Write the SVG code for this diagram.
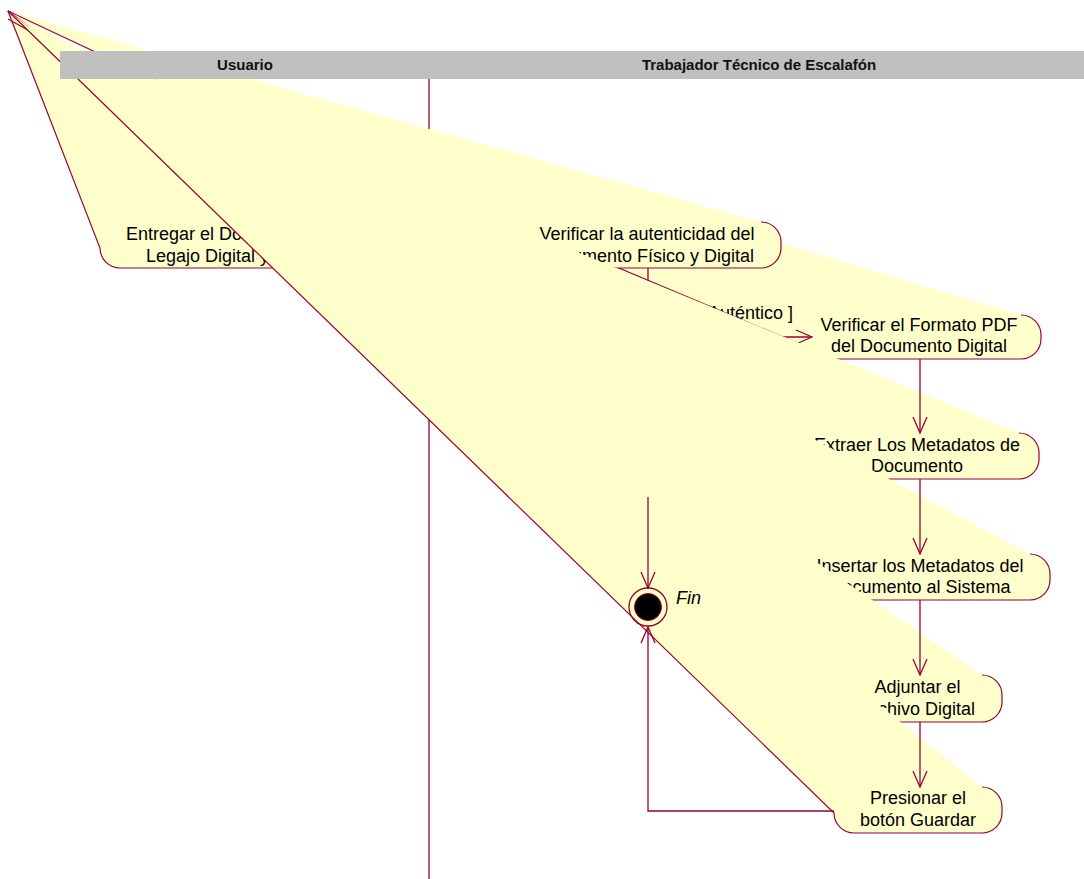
<svg xmlns="http://www.w3.org/2000/svg" width="1084" height="879" viewBox="0 0 1084 879">
<defs>
<style>
.node{fill:#FFFFCC;stroke:#990033;stroke-width:1.2}
.lbl{font-family:"Liberation Sans",Arial,sans-serif;font-size:18px;fill:#000}
.c{text-anchor:middle}
.conn{fill:none;stroke:#990033;stroke-width:1.3}
.hdr{font-family:"Liberation Sans",Arial,sans-serif;font-size:15px;font-weight:bold;fill:#111;text-anchor:middle}
</style>
<marker id="arr" markerUnits="userSpaceOnUse" viewBox="0 0 18 16" refX="17" refY="8" markerWidth="18" markerHeight="16" orient="auto">
<path d="M1,1 L17,8 L1,15" fill="none" stroke="#990033" stroke-width="1.3"/>
</marker>
</defs>
<rect width="1084" height="879" fill="#ffffff"/>
<line x1="429" y1="79" x2="429" y2="879" stroke="#990033" stroke-width="1.3"/>

<g id="entregar">
<path class="node" d="M347,222 A20,20 0 0 1 367,242 L367,248 A20,20 0 0 1 347,268 L120,268 A20,20 0 0 1 100,248 L8,11"/>
<text class="lbl" x="126" y="240">Entregar el Do</text>
<text class="lbl" x="146" y="262">Legajo Digital y</text>
</g>

<g id="formato">
<path class="node" d="M1021,315 A20,20 0 0 1 1041,335 L1041,339 A20,20 0 0 1 1021,359 L813,359 A16,16 0 0 1 797,343 L8,11"/>
<text class="lbl c" x="919" y="331">Verificar el Formato PDF</text>
<text class="lbl c" x="919" y="352">del Documento Digital</text>
</g>

<g id="autenticidad">
<path class="node" d="M761,222 A20,20 0 0 1 781,242 L781,248 A20,20 0 0 1 761,268 L533,268 A20,20 0 0 1 513,248 L8,11"/>
<text class="lbl c" x="647" y="240">Verificar la autenticidad del</text>
<text class="lbl c" x="647" y="262">Documento Físico y Digital</text>
</g>

<g id="conn-autentico">
<path class="conn" d="M648,268 L648,337 L812,337" marker-end="url(#arr)"/>
<text class="lbl" x="793" y="319" text-anchor="end">[ Auténtico ]</text>
</g>

<g id="extraer">
<path class="node" d="M1019,433 A20,20 0 0 1 1039,453 L1039,459 A20,20 0 0 1 1019,479 L815,479 A20,20 0 0 1 795,459 L8,19"/>
<text class="lbl c" x="917" y="451">Extraer Los Metadatos de</text>
<text class="lbl c" x="917" y="472">Documento</text>
</g>

<g id="insertar">
<path class="node" d="M1030,554 A20,20 0 0 1 1050,574 L1050,580 A20,20 0 0 1 1030,600 L810,600 A20,20 0 0 1 790,580 L8,11"/>
<text class="lbl c" x="920" y="572">Insertar los Metadatos del</text>
<text class="lbl c" x="920" y="593">Documento al Sistema</text>
</g>

<g id="adjuntar">
<path class="node" d="M982,675 A20,20 0 0 1 1002,695 L1002,702 A20,20 0 0 1 982,722 L853,722 A20,20 0 0 1 833,702 L8,11"/>
<text class="lbl c" x="917.5" y="693">Adjuntar el</text>
<text class="lbl c" x="917.5" y="715">Archivo Digital</text>
</g>

<g id="presionar">
<path class="node" d="M982,787 A20,20 0 0 1 1002,807 L1002,813 A20,20 0 0 1 982,833 L854,833 A20,20 0 0 1 834,813 L8,11"/>
<text class="lbl c" x="918" y="804">Presionar el</text>
<text class="lbl c" x="918" y="826">botón Guardar</text>
</g>

<g id="connectors">
<path class="conn" d="M920,359 L920,433" marker-end="url(#arr)"/>
<path class="conn" d="M920,479 L920,554" marker-end="url(#arr)"/>
<path class="conn" d="M920,600 L920,675" marker-end="url(#arr)"/>
<path class="conn" d="M920,722 L920,787" marker-end="url(#arr)"/>
<path class="conn" d="M834,811 L648,811 L648,627" marker-end="url(#arr)"/>
<path class="conn" d="M648,497 L648,588" marker-end="url(#arr)"/>
</g>

<g id="fin">
<circle cx="648" cy="607" r="19" fill="none" stroke="#990033" stroke-width="1.3"/>
<circle cx="648" cy="607" r="13.5" fill="#000" stroke="#990033" stroke-width="1"/>
<text class="lbl" x="676" y="604" font-style="italic">Fin</text>
</g>

<g id="header">
<rect x="60" y="51" width="1024" height="28" fill="#C0C0C0"/>
<text class="hdr" x="245" y="70">Usuario</text>
<text class="hdr" x="759" y="70">Trabajador Técnico de Escalafón</text>
</g>
</svg>
